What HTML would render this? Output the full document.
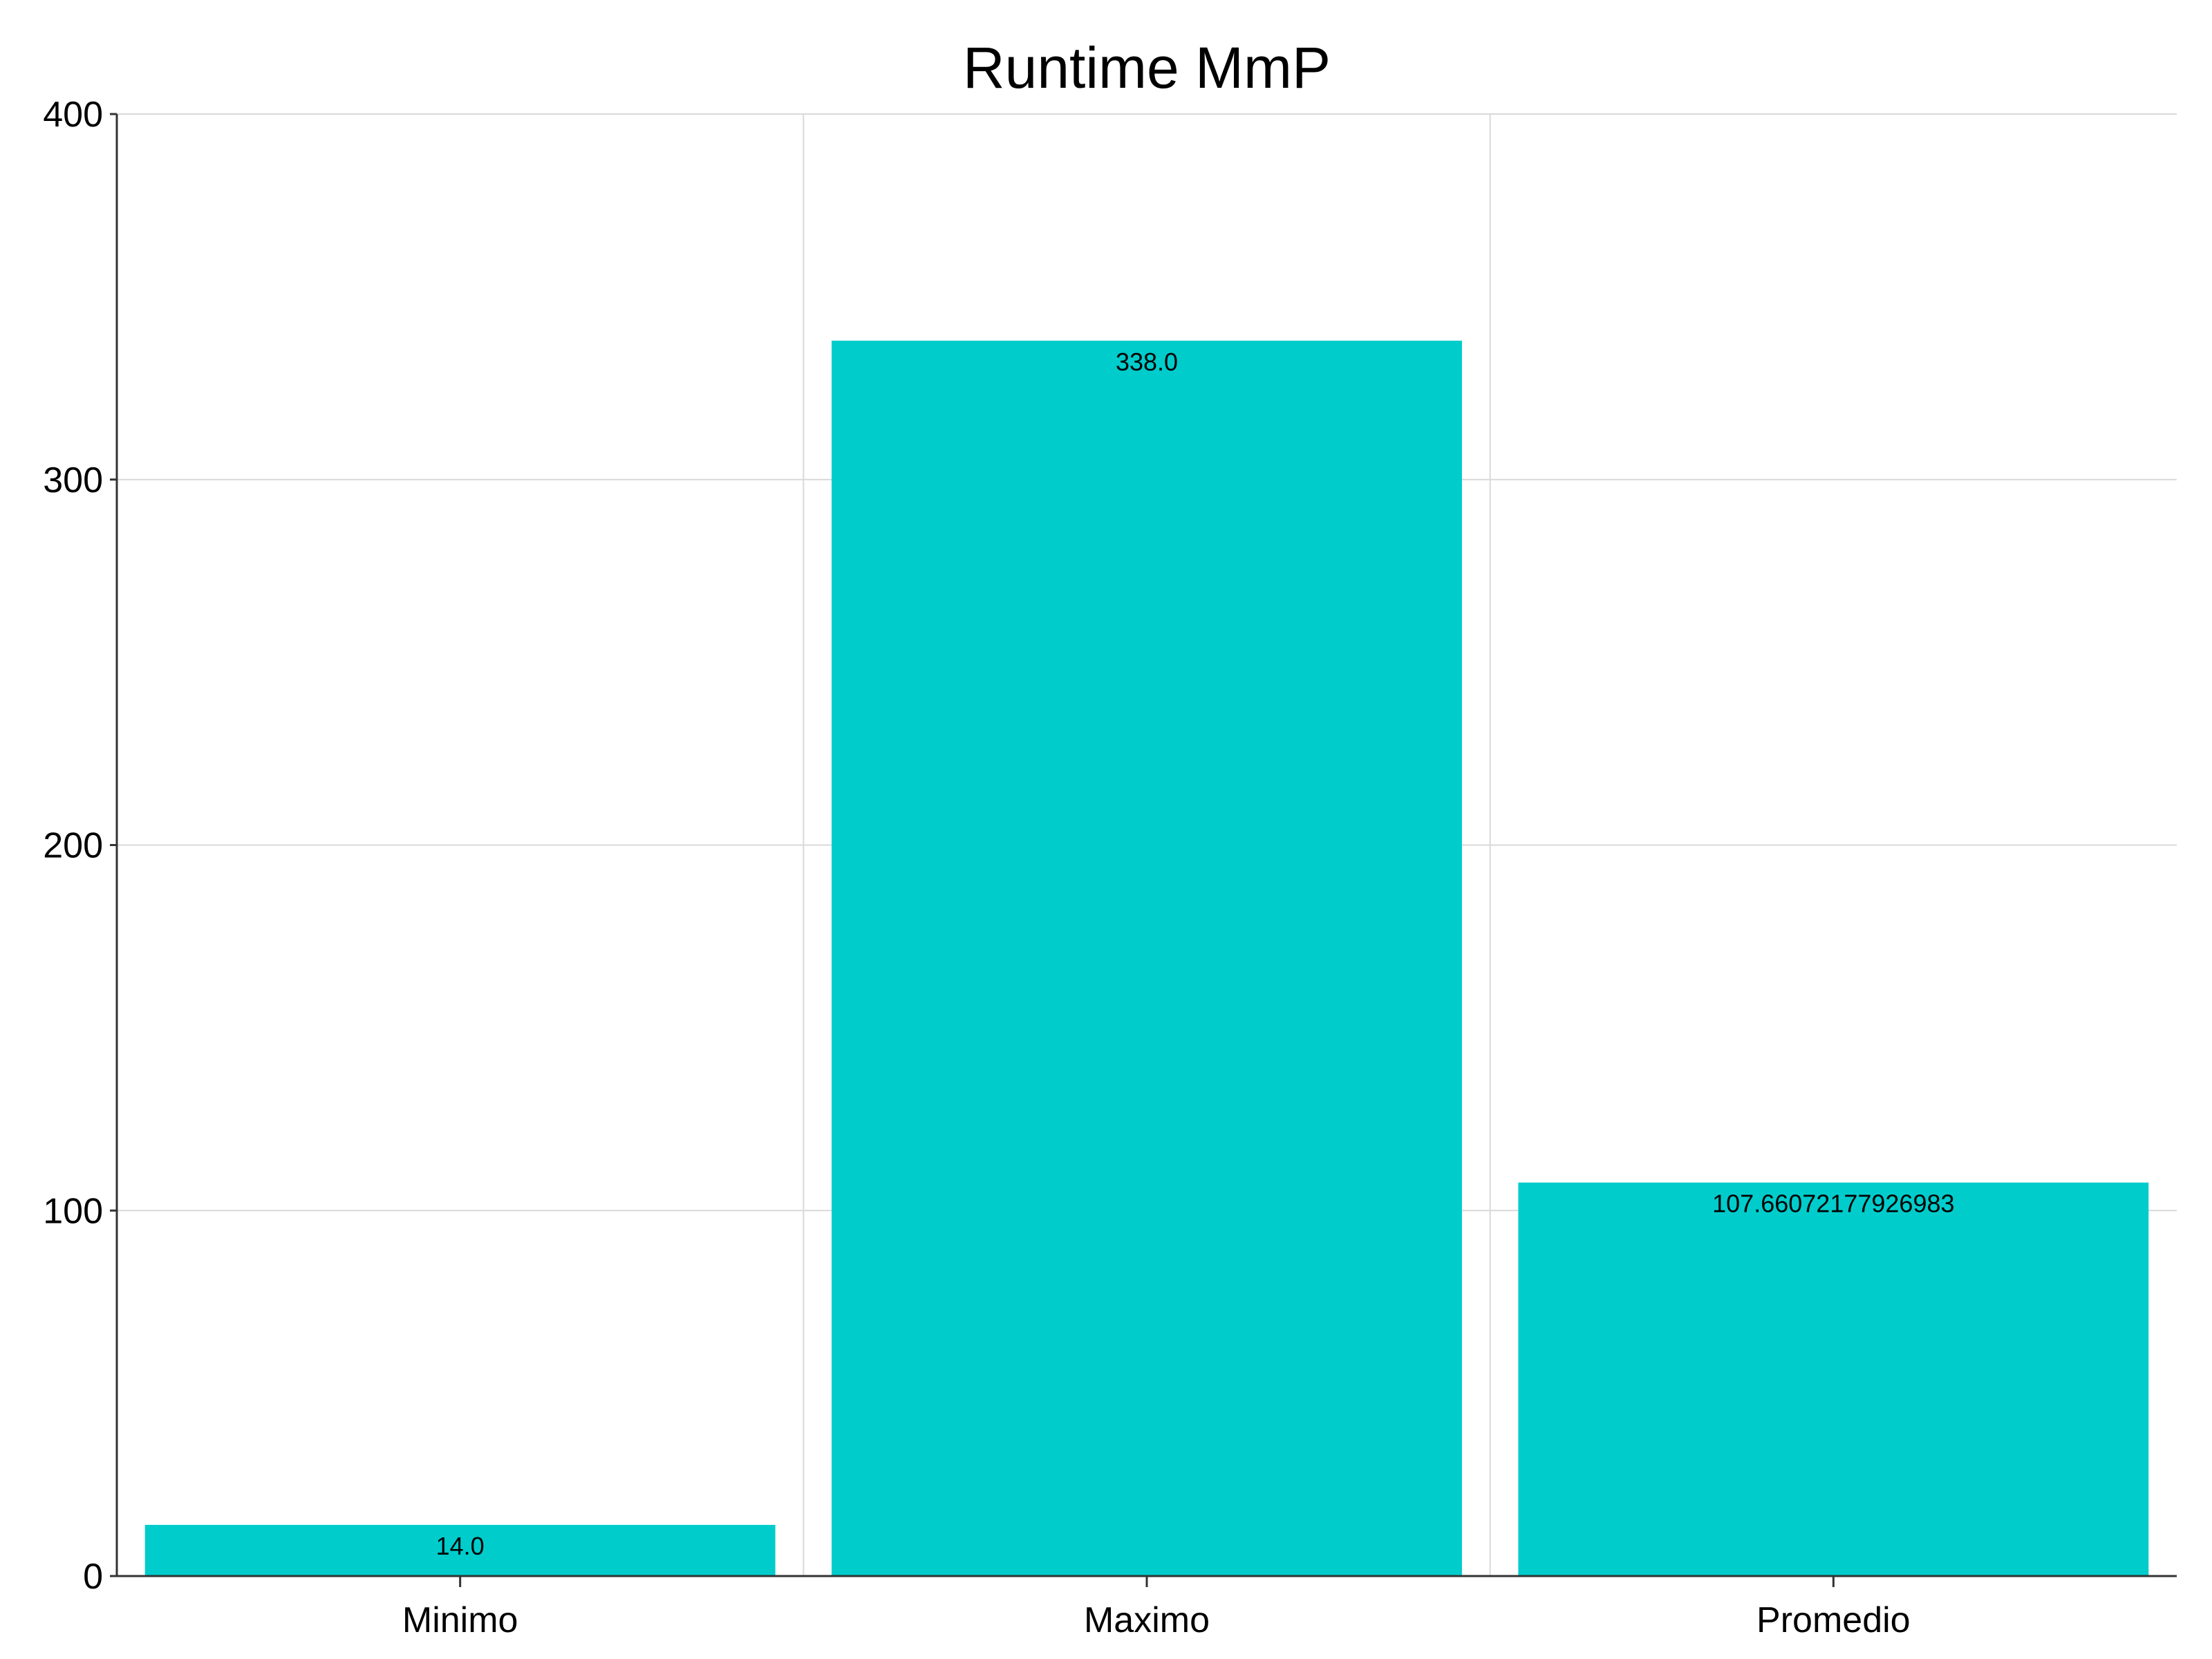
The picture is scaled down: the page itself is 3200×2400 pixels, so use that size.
<!DOCTYPE html>
<html><head><meta charset="utf-8"><style>
body{margin:0;background:#fff;}
svg{display:block;font-family:"Liberation Sans",Arial,sans-serif;}
</style></head><body>
<svg id="chart" width="3200" height="2400" viewBox="0 0 3200 2400">
<rect width="3200" height="2400" fill="#fff"/>
<text x="1659" y="127" font-size="84" text-anchor="middle" fill="#000">Runtime MmP</text>
<g id="grid"></g><g id="bars"></g><g id="axes"></g>
</svg>
<script>
const categories = ["Minimo", "Maximo", "Promedio"];
const values = [14.0, 338.0, 107.66072177926983];
const valueLabels = ["14.0", "338.0", "107.66072177926983"];
const yTicks = [0, 100, 200, 300, 400];

const NS = "http://www.w3.org/2000/svg";
const L = 169, R = 3149, T = 165, B = 2280, yMax = 400;
const band = (R - L) / categories.length;
const barW = band * 0.918;
function y(v){ return B - (v / yMax) * (B - T); }
function xc(i){ return L + band * (i + 0.5); }
function mk(tag, attrs, parent){ const e = document.createElementNS(NS, tag); for (const k in attrs) e.setAttribute(k, attrs[k]); parent.appendChild(e); return e; }
const grid = document.getElementById('grid'), bars = document.getElementById('bars'), axes = document.getElementById('axes');

yTicks.forEach(t => {
  if (t > 0) {
    const g = mk('line', {x1: L, x2: R, y1: y(t), y2: y(t), stroke: '#d9d9d9', 'stroke-width': 2}, grid);
    
    
  }
  const tk = mk('line', {x1: L - 10, x2: L, y1: y(t), y2: y(t), stroke: '#333', 'stroke-width': 3}, axes);
  
  
  const lb = mk('text', {x: L - 20, y: y(t) + 18, 'font-size': 52, 'text-anchor': 'end', fill: '#000'}, axes);
  lb.textContent = t;
  
  
});
for (let i = 1; i < categories.length; i++) {
  const g = mk('line', {x1: L + band * i, x2: L + band * i, y1: T, y2: B, stroke: '#d9d9d9', 'stroke-width': 2}, grid);
  
  
}
categories.forEach((c, i) => {
  const b = mk('rect', {x: xc(i) - barW / 2, y: y(values[i]), width: barW, height: B - y(values[i]), fill: '#00cccc'}, bars);
  
  
  const v = mk('text', {x: xc(i), y: y(values[i]) + 43, 'font-size': 36, 'text-anchor': 'middle', fill: '#000'}, bars);
  v.textContent = valueLabels[i];
  
  
  const tk = mk('line', {x1: xc(i), x2: xc(i), y1: B, y2: B + 16, stroke: '#333', 'stroke-width': 3}, axes);
  
  
  const lb = mk('text', {x: xc(i), y: 2361, 'font-size': 52, 'text-anchor': 'middle', fill: '#000'}, axes);
  lb.textContent = c;
  
  
});
const ya = mk('line', {x1: L, x2: L, y1: T, y2: B + 1, stroke: '#333', 'stroke-width': 3}, axes);


const xa = mk('line', {x1: L, x2: R, y1: B, y2: B, stroke: '#333', 'stroke-width': 3}, axes);


</script>
</body></html>
